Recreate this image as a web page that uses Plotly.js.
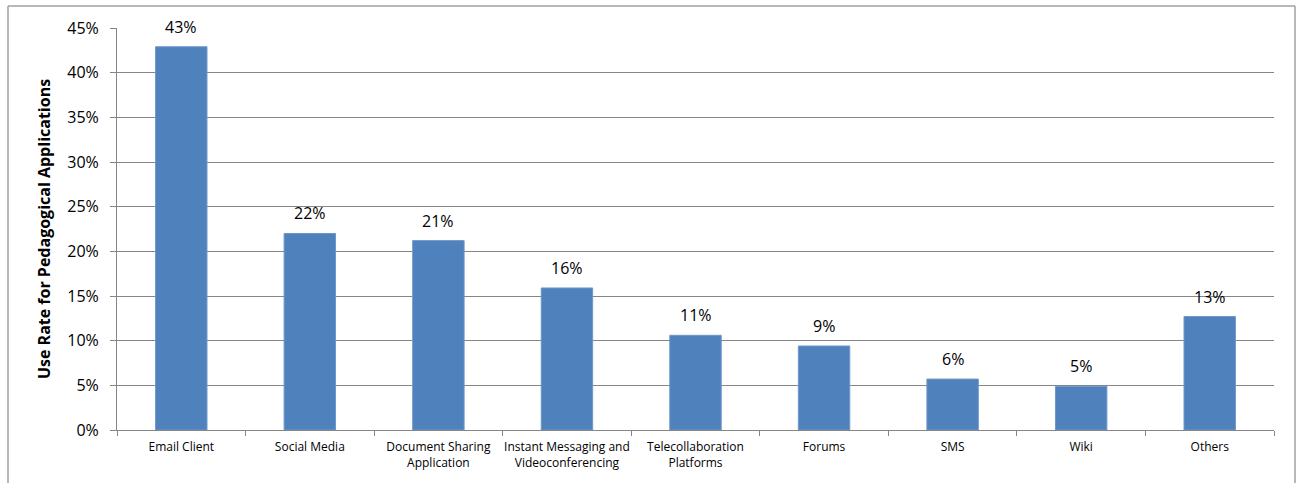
<!DOCTYPE html>
<html>
<head>
<meta charset="utf-8">
<script src="https://cdn.plot.ly/plotly-3.0.1.min.js"></script>
<style>html,body{margin:0;padding:0;background:#fff;}#chart{width:1296px;height:483px;}</style>
</head>
<body>
<div id="chart"></div>
<script>
const categories = ["Email Client", "Social Media", "Document Sharing<br>Application", "Instant Messaging and<br>Videoconferencing", "Telecollaboration<br>Platforms", "Forums", "SMS", "Wiki", "Others"];
const values = [42.9, 22.0, 21.2, 15.9, 10.6, 9.4, 5.7, 4.9, 12.7];
const labels = ["43%", "22%", "21%", "16%", "11%", "9%", "6%", "5%", "13%"];

const W = 1296, H = 483, mL = 117, mR = 22, mT = 28, mB = 53;
const pw = W - mL - mR, ph = H - mT - mB;
const px = v => (v - mL) / pw;
const py = v => (H - mB - v) / ph;

const trace = {
  type: 'bar',
  x: categories,
  y: values,
  cliponaxis: false,
  marker: {color: '#4F81BD', line: {color: '#6E97C8', width: 1}},
  hoverinfo: 'none'
};

const annotations = categories.map((c, i) => ({
  x: c, y: values[i], xref: 'x', yref: 'y',
  text: labels[i], showarrow: false, yanchor: 'bottom', yshift: 7,
  font: {family: 'Open Sans, sans-serif', size: 16, color: '#000'}
}));

const borderColor = '#A0A0A0';
const layout = {
  width: W, height: H,
  margin: {l: mL, r: mR, t: mT, b: mB, pad: 0},
  paper_bgcolor: '#fff', plot_bgcolor: '#fff',
  showlegend: false,
  bargap: 0.6,
  font: {family: 'Open Sans, sans-serif', color: '#000'},
  xaxis: {
    type: 'category',
    showgrid: false,
    showline: true, linecolor: '#868686', linewidth: 1,
    ticks: 'outside', tickson: 'boundaries', ticklen: 5, tickcolor: '#868686',
    tickangle: 0,
    ticklabelstandoff: 6,
    tickfont: {size: 12, color: '#000'},
    fixedrange: true
  },
  yaxis: {
    range: [0, 45], dtick: 5, ticksuffix: '%',
    showgrid: true, gridcolor: '#868686', gridwidth: 1,
    showline: true, linecolor: '#868686', linewidth: 1,
    ticks: 'outside', ticklen: 6, tickcolor: '#868686',
    ticklabelstandoff: 8,
    tickfont: {size: 16, color: '#000'},
    zeroline: false,
    title: {text: 'Use Rate for Pedagogical Applications', font: {size: 16, color: '#000', family: 'Open Sans, sans-serif', weight: 'bold'}, standoff: 12},
    fixedrange: true
  },
  annotations: annotations,
  shapes: [
    {type: 'line', xref: 'paper', yref: 'paper', x0: px(8), x1: px(1295), y0: py(6), y1: py(6), line: {color: borderColor, width: 1.5}},
    {type: 'line', xref: 'paper', yref: 'paper', x0: px(8), x1: px(8), y0: py(6), y1: py(490), line: {color: borderColor, width: 1.5}},
    {type: 'line', xref: 'paper', yref: 'paper', x0: px(1295), x1: px(1295), y0: py(6), y1: py(490), line: {color: borderColor, width: 1.5}}
  ]
};

Plotly.newPlot('chart', [trace], layout, {displayModeBar: false, staticPlot: true});
</script>
</body>
</html>
